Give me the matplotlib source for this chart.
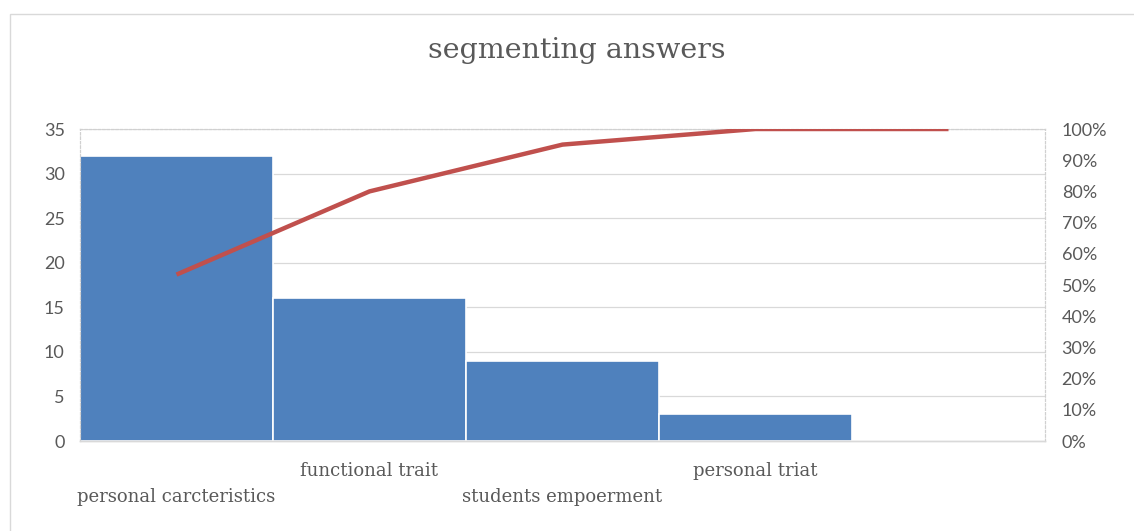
import numpy as np
import matplotlib
matplotlib.use("Agg")
import matplotlib.pyplot as plt
from matplotlib.patches import Rectangle

# pareto data
categories = ["personal carcteristics", "functional trait", "students empoerment", "personal triat", ""]
counts = [32, 16, 9, 3, 0]
cum_pct = np.cumsum(counts) / np.sum(counts) * 100

bar_color = "#4F81BD"
line_color = "#C0504D"
tick_color = "#595959"

fig = plt.figure(figsize=(11.34, 5.31), dpi=100)
ax = fig.add_axes([80 / 1134, 1 - 441 / 531, 965 / 1134, 312 / 531])

x = np.arange(len(counts))
ax.bar(x, counts, width=1.0, color=bar_color, edgecolor="white", linewidth=1.2, zorder=2)
ax.set_xlim(-0.5, len(counts) - 0.5)
ax.set_ylim(0, 35)
ax.set_yticks(range(0, 36, 5))
ax.set_xticks([])
ax.grid(axis="y", color="#D9D9D9", linewidth=0.9, zorder=0)
ax.set_axisbelow(True)
ax.tick_params(axis="y", length=0, pad=11, labelsize=13, labelcolor=tick_color)
for lab in ax.get_yticklabels():
    lab.set_family("Lato")

ax2 = ax.twinx()
ax2.plot(x, cum_pct, color=line_color, linewidth=3.2, solid_capstyle="butt", zorder=3)
ax2.set_ylim(0, 100)
ax2.set_yticks(range(0, 101, 10))
ax2.set_yticklabels([f"{v}%" for v in range(0, 101, 10)])
ax2.tick_params(axis="y", length=0, pad=12, labelsize=13, labelcolor=tick_color)
for lab in ax2.get_yticklabels():
    lab.set_family("Lato")

for a in (ax, ax2):
    for side in ("top", "left", "right"):
        a.spines[side].set_color("#D0D0D0")
        a.spines[side].set_linestyle((0, (2, 2)))
        a.spines[side].set_linewidth(0.8)
    a.spines["bottom"].set_color("#D9D9D9")
    a.spines["bottom"].set_linewidth(1.0)

# staggered category labels
for i, name in enumerate(categories):
    if not name:
        continue
    yoff = -0.18 if i % 2 == 0 else -0.095
    ax.text(i, yoff, name, transform=ax.get_xaxis_transform(), ha="center", va="center",
            fontsize=13, family="DejaVu Serif", color=tick_color)

fig.text(577 / 1134, 1 - 50 / 531, "segmenting answers", ha="center", va="center",
         fontsize=20.5, family="DejaVu Serif", color=tick_color)

fig.patches.append(Rectangle((10 / 1134, -0.01), 1.02, 1 - 14 / 531 + 0.01, transform=fig.transFigure,
                             fill=False, edgecolor="#D9D9D9", linewidth=1.0))

fig.savefig("out.png", dpi=100)
